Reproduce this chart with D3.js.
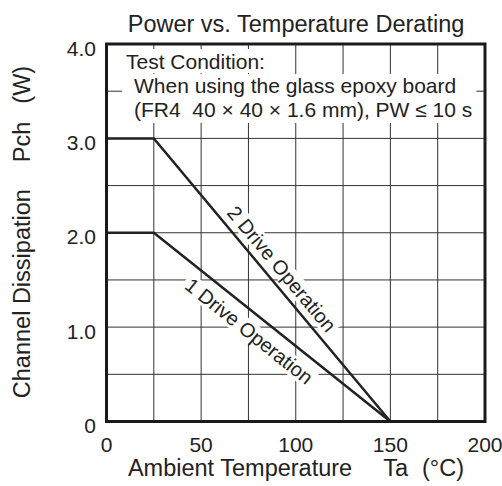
<!DOCTYPE html>
<html>
<head>
<meta charset="utf-8">
<script src="https://cdn.jsdelivr.net/npm/d3@7"></script>
<style>
  html, body { margin: 0; padding: 0; background: #fff; }
  svg { display: block; font-family: "Liberation Sans", Arial, Helvetica, sans-serif; }
</style>
</head>
<body>
<svg id="chart" width="502" height="486"></svg>
<script>
// ---- data ----
const temps = [0, 25, 150];               // Ambient temperature breakpoints (°C)
const drive2 = [3.0, 3.0, 0];             // 2 Drive Operation, Pch (W)
const drive1 = [2.0, 2.0, 0];             // 1 Drive Operation, Pch (W)
const seriesNames = ["2 Drive Operation", "1 Drive Operation"];
const xTicks = [0, 50, 100, 150, 200];
const xTickLabels = ["0", "50", "100", "150", "200"];
const yTicks = [0, 1, 2, 3, 4];
const yTickLabels = ["0", "1.0", "2.0", "3.0", "4.0"];
const xGrid = [25, 50, 75, 100, 125, 150, 175];
const yGrid = [0.5, 1, 1.5, 2, 2.5, 3, 3.5];
const titleText = "Power vs. Temperature Derating";
const noteLines = ["Test Condition:", "When using the glass epoxy board", "(FR4  40 \u00d7 40 \u00d7 1.6 mm), PW \u2264 10 s"];

// ---- layout ----
const svg = d3.select("#chart");
const ink = "#222";
const x = d3.scaleLinear().domain([0, 200]).range([106.5, 485]);
const y = d3.scaleLinear().domain([0, 4]).range([421.5, 44]);

// gridlines
const grid = svg.append("g").attr("stroke", "#333").attr("stroke-width", 1);
grid.selectAll("line.v").data(xGrid).join("line")
  .attr("x1", d => x(d)).attr("x2", d => x(d))
  .attr("y1", y(0)).attr("y2", y(4));
grid.selectAll("line.h").data(yGrid).join("line")
  .attr("y1", d => y(d)).attr("y2", d => y(d))
  .attr("x1", x(0)).attr("x2", x(200));

// backgrounds layer (drawn above gridlines, below data lines)
const bgLayer = svg.append("g");
const lineLayer = svg.append("g");
const textLayer = svg.append("g");

// note text block
const noteFont = 21;
const noteX = [126, 134, 134];
const noteY = [69, 93, 117];
const noteTexts = textLayer.selectAll("text.note").data(noteLines).join("text")
  .attr("class", "note")
  .attr("x", (d, i) => noteX[i])
  .attr("y", (d, i) => noteY[i])
  .attr("font-size", noteFont)
  .attr("fill", ink)
  .style("white-space", "pre")
  .text(d => d);
const bb = noteTexts.nodes().map(n => n.getBBox());
// first line background
bgLayer.append("rect")
  .attr("x", bb[0].x - 4).attr("y", bb[0].y - 1)
  .attr("width", bb[0].width + 8).attr("height", bb[0].height + 1)
  .attr("fill", "#fff");
// lines 2-3 background
const bx0 = Math.min(bb[1].x, bb[2].x) - 12;
const bx1 = Math.max(bb[1].x + bb[1].width, bb[2].x + bb[2].width) + 4;
bgLayer.append("rect")
  .attr("x", bx0).attr("y", bb[1].y)
  .attr("width", bx1 - bx0).attr("height", (bb[2].y + bb[2].height) - bb[1].y + 2)
  .attr("fill", "#fff");

// data lines
const series = [drive2, drive1];
const lineGen = d3.line().x((d, i) => x(temps[i])).y(d => y(d));
lineLayer.selectAll("path").data(series).join("path")
  .attr("d", d => lineGen(d))
  .attr("fill", "none")
  .attr("stroke", ink)
  .attr("stroke-width", 2.5)
  .attr("stroke-linejoin", "miter");

// rotated series labels
const labelAtT = [86.7, 81.1];     // temperature where label sits along the slope
const labelOffset = [-14.5, 17.5]; // perpendicular pixel offset (negative = above)
series.forEach((s, k) => {
  const x0 = x(temps[1]), y0 = y(s[1]), x1 = x(temps[2]), y1 = y(s[2]);
  const ang = Math.atan2(y1 - y0, x1 - x0);
  const t = labelAtT[k];
  const v = s[1] + (s[2] - s[1]) * (t - temps[1]) / (temps[2] - temps[1]);
  const fx = x(t), fy = y(v);
  // normal pointing "up-right" for negative offset
  const nx = -Math.sin(ang), ny = Math.cos(ang);
  const cx = fx + nx * labelOffset[k], cy = fy + ny * labelOffset[k];
  const g = textLayer.append("g")
    .attr("transform", `translate(${cx},${cy}) rotate(${ang * 180 / Math.PI})`);
  const txt = g.append("text")
    .attr("text-anchor", "middle")
    .attr("dominant-baseline", "central")
    .attr("font-size", 20)
    .attr("fill", ink)
    .text(seriesNames[k]);
  const b = txt.node().getBBox();
  g.insert("rect", "text")
    .attr("x", b.x - 3).attr("y", b.y + 1)
    .attr("width", b.width + 6).attr("height", b.height - 2)
    .attr("fill", "#fff");
});

// frame
svg.append("rect")
  .attr("x", x(0)).attr("y", y(4))
  .attr("width", x(200) - x(0)).attr("height", y(0) - y(4))
  .attr("fill", "none").attr("stroke", "#1a1a1a").attr("stroke-width", 3);

// x tick labels
svg.selectAll("text.xt").data(xTicks).join("text")
  .attr("class", "xt")
  .attr("x", d => x(d)).attr("y", 452)
  .attr("text-anchor", "middle")
  .attr("font-size", 21).attr("fill", ink)
  .text((d, i) => xTickLabels[i]);

// y tick labels
svg.selectAll("text.yt").data(yTicks).join("text")
  .attr("class", "yt")
  .attr("x", 96).attr("y", d => y(d) + 11.5)
  .attr("text-anchor", "end")
  .attr("font-size", 21).attr("fill", ink)
  .text((d, i) => yTickLabels[i]);

// title
svg.append("text")
  .attr("x", 296).attr("y", 32)
  .attr("text-anchor", "middle")
  .attr("font-size", 23.5).attr("fill", ink)
  .text(titleText);

// x axis title
const xt = svg.append("text")
  .attr("x", 296).attr("y", 476)
  .attr("text-anchor", "middle")
  .attr("font-size", 23.5).attr("fill", ink);
xt.append("tspan").text("Ambient Temperature");
xt.append("tspan").attr("dx", 31).text("Ta");
xt.append("tspan").attr("dx", 14).text("(\u00b0C)");

// y axis title
const yt = svg.append("text")
  .attr("transform", "translate(30,232) rotate(-90)")
  .attr("text-anchor", "middle")
  .attr("font-size", 23.5).attr("fill", ink);
yt.append("tspan").text("Channel Dissipation");
yt.append("tspan").attr("dx", 27).text("Pch");
yt.append("tspan").attr("dx", 18).text("(W)");
</script>
</body>
</html>
